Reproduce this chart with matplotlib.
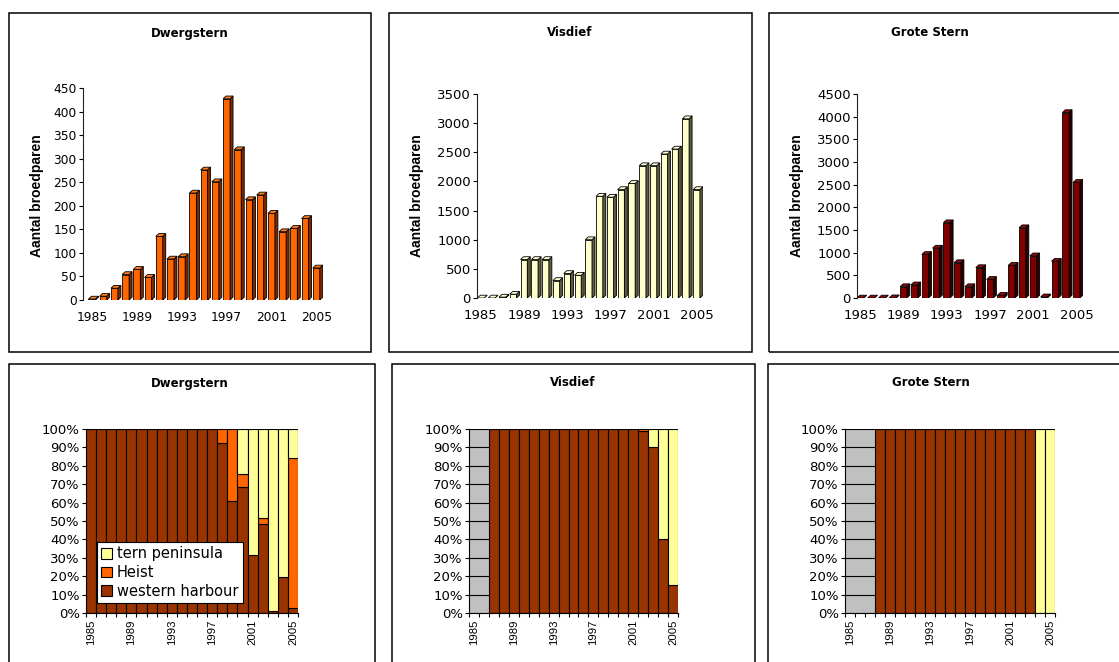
import numpy as np
import matplotlib.pyplot as plt
from matplotlib.patches import Rectangle, Polygon

plt.rcParams['font.family'] = ['DejaVu Sans']
NARROW = ['Liberation Sans', 'DejaVu Sans']

W, H = 1119, 662

# -- Data ----------------------------------------------------------------------

years = list(range(1985, 2006))
label_years = [1985, 1989, 1993, 1997, 2001, 2005]

# breeding pairs per year
dwergstern = [2, 8, 25, 54, 65, 48, 135, 87, 92, 227, 276, 251, 427, 319,
              213, 223, 184, 145, 152, 173, 68]
visdief = [0, 0, 15, 65, 660, 660, 660, 300, 420, 390, 1000, 1745, 1730,
           1860, 1965, 2270, 2270, 2470, 2555, 3075, 1860]
grote_stern = [0, 0, 0, 5, 250, 290, 960, 1100, 1660, 780, 250, 670, 410,
               60, 720, 1550, 930, 25, 810, 4090, 2550]

# share per colony (%)
dw_western = [100] * 13 + [92.2, 61.1, 68.7, 31.6, 48.3, 1.1, 19.3, 2.5]
dw_heist = [0] * 13 + [7.8, 38.9, 6.7, 0, 3.6, 0, 0, 81.6]
dw_tern = [0] * 13 + [0, 0, 24.6, 68.4, 48.1, 98.9, 80.7, 15.9]

vd_western = [0, 0] + [100] * 15 + [99, 90, 40, 15]
vd_heist = [0] * 17 + [1, 0, 0, 0]
vd_tern = [0] * 17 + [0, 10, 60, 85]

gs_western = [0, 0, 0] + [100] * 16 + [0, 0]
gs_heist = [0] * 21
gs_tern = [0] * 19 + [100, 100]

series_names = ["western harbour", "Heist", "tern peninsula"]
series_colors = ["#993300", "#FF6600", "#FFFF99"]


def px_rect(left, top, right, bottom):
    return [left / W, 1 - bottom / H, (right - left) / W, (bottom - top) / H]


fig = plt.figure(figsize=(W / 100, H / 100), dpi=100)

# panel frames
frames = [(9, 13, 371, 352), (389, 13, 752, 352), (769, 13, 1130, 352),
          (9, 364, 375, 680), (392, 364, 755, 680), (768, 364, 1130, 680)]
for l, t, r, b in frames:
    fig.add_artist(Rectangle((l / W, 1 - b / H), (r - l) / W, (b - t) / H,
                             transform=fig.transFigure, fill=False,
                             edgecolor="black", linewidth=1.1))


def column3d(ax, values, ymax, front, side, top, xlim, height_px, width_px):
    x = np.arange(len(values))
    w = 0.62
    # depth of the pseudo-3D faces, in data units
    dx = 3.0 * (xlim[1] - xlim[0]) / width_px
    dy = 2.8 * ymax / height_px
    ax.bar(x, values, width=w, color=front, edgecolor="black",
           linewidth=0.6, zorder=2)
    for xi, v in zip(x, values):
        l, r = xi - w / 2, xi + w / 2
        ax.add_patch(Polygon([(r, 0), (r + dx, dy), (r + dx, v + dy), (r, v)],
                             closed=True, facecolor=side, edgecolor="black",
                             linewidth=0.6, zorder=2))
        ax.add_patch(Polygon([(l, v), (r, v), (r + dx, v + dy), (l + dx, v + dy)],
                             closed=True, facecolor=top, edgecolor="black",
                             linewidth=0.6, zorder=2))
    ax.set_xlim(*xlim)
    ax.set_ylim(0, ymax)
    for s in ["top", "right", "bottom"]:
        ax.spines[s].set_visible(False)
    ax.spines["left"].set_color("#222222")
    ax.spines["left"].set_linewidth(0.8)
    ax.set_xticks([years.index(y) for y in label_years])
    ax.set_xticklabels([str(y) for y in label_years])
    ax.tick_params(axis="x", length=0, pad=8)
    ax.tick_params(axis="y", direction="out", length=3, width=0.8, pad=1.5)
    ax.patch.set_visible(False)


top_panels = [
    ("Dwergstern", dwergstern, 450, 50, "#FF6600", "#7A2800", "#FF7A1A",
     (83, 88, 323, 300), (-0.8, 20.6), 190, 37, 8.8),
    ("Visdief", visdief, 3500, 500, "#FFFFCC", "#5C5C3D", "#FFFFD6",
     (477, 94, 703, 298), (-0.35, 20.6), 570, 417, 9.5),
    ("Grote Stern", grote_stern, 4500, 500, "#800000", "#2A0000", "#8C0A0A",
     (857, 94, 1083, 298), (-0.3, 20.6), 930, 797, 9.5),
]

for name, vals, ymax, step, front, side, top, box, xlim, tx, lx, fs in top_panels:
    ax = fig.add_axes(px_rect(*box))
    column3d(ax, vals, ymax, front, side, top, xlim,
             box[3] - box[1], box[2] - box[0])
    ax.set_yticks(np.arange(0, ymax + 1, step))
    ax.tick_params(labelsize=fs)
    fig.text(tx / W, 1 - 33 / H, name, ha="center", va="center",
             fontsize=8.5, fontweight="bold")
    fig.text(lx / W, 1 - 196 / H, "Aantal broedparen", rotation=90,
             ha="center", va="center", fontsize=10, fontweight="bold",
             family=NARROW)

bottom_panels = [
    ("Dwergstern", (dw_western, dw_heist, dw_tern), (86, 429, 298, 613), 190),
    ("Visdief", (vd_western, vd_heist, vd_tern), (469, 429, 678, 613), 573),
    ("Grote Stern", (gs_western, gs_heist, gs_tern), (845, 429, 1055, 613), 931),
]

x = np.arange(len(years))
for i, (name, shares, box, tx) in enumerate(bottom_panels):
    ax = fig.add_axes(px_rect(*box))
    ax.set_facecolor("#C0C0C0")
    bottom = np.zeros(len(years))
    handles = []
    for vals, lab, col in zip(shares, series_names, series_colors):
        vals = np.array(vals, dtype=float)
        keep = vals > 0
        h = ax.bar(x[keep], vals[keep], bottom=bottom[keep], width=1.0,
                   color=col, edgecolor="black", linewidth=0.8, zorder=2,
                   label=lab)
        handles.append(h)
        bottom += vals
    ax.set_xlim(-0.5, len(years) - 0.5)
    ax.set_ylim(0, 100)
    ax.set_yticks(np.arange(0, 101, 10))
    ax.set_yticklabels([f"{v}%" for v in range(0, 101, 10)], fontsize=9.5)
    ax.yaxis.grid(True, color="black", linewidth=0.8, zorder=1)
    ax.set_axisbelow(True)
    ax.set_xticks([years.index(y) for y in label_years])
    ax.set_xticklabels([str(y) for y in label_years], rotation=90,
                       fontsize=8.2, family=NARROW)
    ax.set_xticks(np.arange(-0.5, len(years)), minor=True)
    ax.tick_params(axis="x", which="major", length=0, pad=5)
    ax.tick_params(axis="x", which="minor", direction="out", length=3, width=0.8)
    ax.tick_params(axis="y", direction="out", length=3, width=0.8, pad=1.5)
    for s in ["top", "right"]:
        ax.spines[s].set_visible(False)
    for s in ["left", "bottom"]:
        ax.spines[s].set_color("black")
        ax.spines[s].set_linewidth(0.8)
    fig.text(tx / W, 1 - 383 / H, name, ha="center", va="center",
             fontsize=8.5, fontweight="bold")
    if i == 0:
        leg = ax.legend(handles[::-1], series_names[::-1], loc="lower left",
                        bbox_to_anchor=(97 / W, 1 - 603 / H),
                        bbox_transform=fig.transFigure, fontsize=10.5,
                        frameon=True, fancybox=False, framealpha=1,
                        edgecolor="black", borderpad=0.3, labelspacing=0.25,
                        handlelength=0.75, handleheight=0.75, handletextpad=0.3,
                        borderaxespad=0)
        leg.get_frame().set_linewidth(0.8)
        leg.set_zorder(5)

fig.savefig("out.png", dpi=100)
